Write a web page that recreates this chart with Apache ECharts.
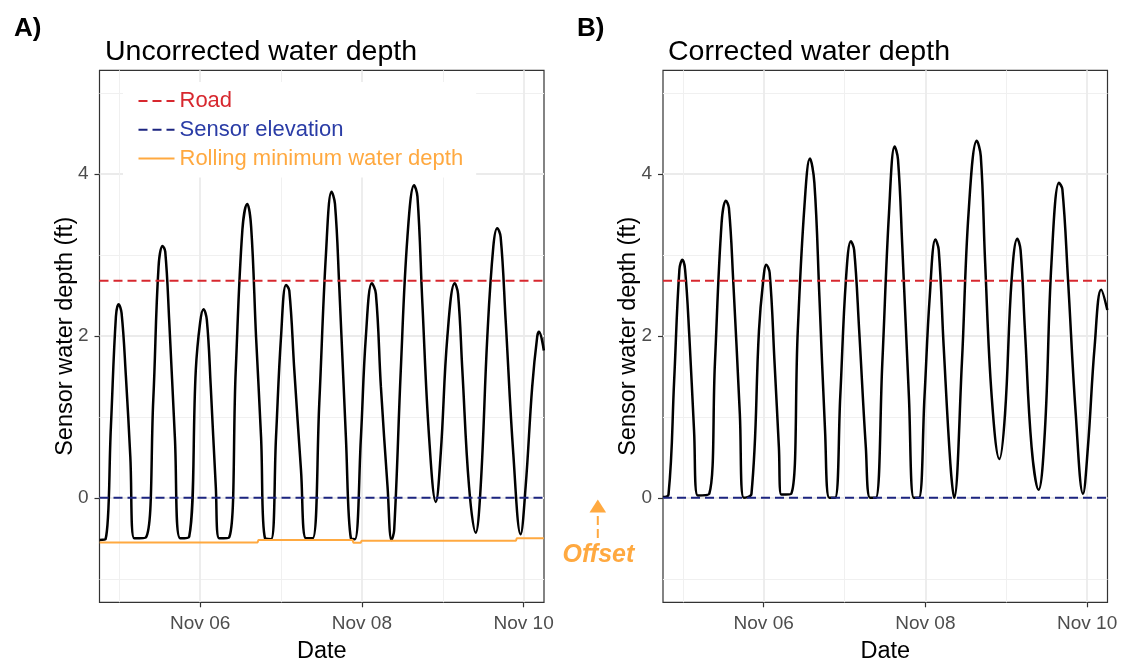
<!DOCTYPE html>
<html>
<head>
<meta charset="utf-8">
<script src="https://cdn.jsdelivr.net/npm/echarts@6/dist/echarts.min.js"></script>
<style>
html,body{margin:0;padding:0;background:#fff}
#main{width:1125px;height:666px}
</style>
</head>
<body>
<div id="main"></div>
<script>
// time = fractional day of November, depth in ft
var rawDay = [4.757,4.83,4.896,4.958,4.991,5.028,5.082,5.136,5.185,5.328,
  5.42,5.485,5.535,5.568,5.617,5.687,5.753,5.864,5.946,6.0,
  6.041,6.082,6.131,6.193,6.235,6.358,6.44,6.522,6.582,6.63,
  6.691,6.753,6.802,6.877,6.938,7.0,7.062,7.102,7.164,7.247,
  7.309,7.391,7.473,7.556,7.625,7.667,7.72,7.802,7.864,7.914,
  7.988,8.049,8.123,8.173,8.235,8.317,8.366,8.399,8.481,8.563,
  8.646,8.687,8.748,8.831,8.914,8.975,9.057,9.148,9.189,9.242,
  9.325,9.407,9.469,9.551,9.625,9.674,9.716,9.778,9.872,9.963,
  10.025,10.106,10.168,10.19,10.25];
var rawDepth = [-0.52,-0.51,0.88,2.24,2.39,2.28,1.49,0.51,-0.50,-0.49,
  1.21,2.85,3.11,3.04,2.19,0.75,-0.50,-0.48,1.58,2.17,
  2.33,2.20,1.37,0.14,-0.50,-0.49,1.58,3.31,3.63,3.35,
  1.99,0.75,-0.50,-0.51,0.75,1.99,2.63,2.56,1.58,0.34,
  -0.50,-0.50,1.17,3.02,3.78,3.63,2.61,0.75,-0.50,-0.51,
  0.75,1.99,2.65,2.52,1.37,0.14,-0.52,-0.40,1.58,3.22,
  3.86,3.72,2.40,0.75,-0.05,0.55,1.99,2.65,2.52,1.58,
  0.14,-0.43,0.14,1.99,3.10,3.33,3.22,2.19,0.55,-0.45,
  0.14,1.37,1.99,2.05,1.82];

var corrDay = [4.754,4.823,4.893,4.958,4.995,5.028,5.081,5.139,5.184,5.327,
  5.397,5.48,5.533,5.57,5.623,5.705,5.754,5.849,5.942,5.991,
  6.033,6.074,6.135,6.188,6.218,6.341,6.422,6.504,6.572,6.627,
  6.689,6.759,6.812,6.882,6.947,7.017,7.079,7.119,7.181,7.263,
  7.316,7.386,7.467,7.55,7.62,7.661,7.714,7.796,7.857,7.919,
  7.989,8.054,8.124,8.165,8.226,8.309,8.355,8.451,8.534,8.636,
  8.685,8.739,8.82,8.915,8.985,9.066,9.137,9.177,9.231,9.313,
  9.399,9.478,9.559,9.653,9.694,9.764,9.859,9.949,10.01,10.093,
  10.174,10.25];
var corrDepth = [0.01,0.04,1.45,2.82,2.94,2.82,1.99,0.83,0.03,0.05,
  1.66,3.40,3.67,3.58,2.69,1.04,0.0,0.05,2.07,2.65,
  2.88,2.78,1.66,0.63,0.04,0.05,2.07,3.60,4.19,3.89,
  2.49,0.83,0.0,0.0,1.25,2.69,3.17,3.06,2.07,0.63,
  0.0,0.0,1.66,3.52,4.34,4.18,3.11,1.25,0.0,0.0,
  1.25,2.49,3.19,3.06,1.87,0.42,0.0,1.66,3.52,4.41,
  4.22,2.90,1.25,0.48,1.04,2.69,3.20,3.06,2.07,0.63,
  0.10,0.83,2.90,3.89,3.81,2.69,1.04,0.05,0.63,1.87,
  2.57,2.32];

var rollDay = [4.757,6.71,6.72,7.885,7.895,7.985,7.995,9.905,9.915,10.25];
var rollDepth = [-0.55,-0.55,-0.52,-0.52,-0.555,-0.555,-0.53,-0.53,-0.50,-0.50];

var roadElev = 2.68;
var sensorElev = 0;

var dateMajor = [6, 8, 10];
var dateMinor = [5, 7, 9];
var depthMajor = [0, 2, 4];
var depthMinor = [-1, 1, 3, 5];
var xMin = 4.755, xMax = 10.252;
var yMin = -1.29, yMax = 5.28;

var RED = '#d7282f', NAVY = '#1c2580', ORANGE = '#ffa940';
var FONT = 'Liberation Sans, Arial, Helvetica, sans-serif';

function zip(a, b) {
  var out = [];
  for (var i = 0; i < a.length; i++) out.push([a[i], b[i]]);
  return out;
}
function dateLabel(v) {
  return 'Nov ' + (v < 10 ? '0' : '') + v;
}

var grids = [
  {left: 99.5, top: 70.3, width: 444.5, height: 532},
  {left: 663, top: 70.3, width: 444.5, height: 532}
];

var xAxes = [], yAxes = [];
for (var g = 0; g < 2; g++) {
  // main axes: ticks, labels, major grid lines
  xAxes.push({
    gridIndex: g, type: 'value', min: xMin, max: xMax,
    axisLine: {show: false, onZero: false},
    axisTick: {show: true, customValues: dateMajor, length: 5, lineStyle: {color: '#333', width: 1.2}},
    axisLabel: {customValues: dateMajor, formatter: dateLabel, color: '#4d4d4d', fontSize: 19, fontFamily: FONT, margin: 12},
    splitLine: {show: true, lineStyle: {color: '#ebebeb', width: 1.8}},
    name: 'Date', nameLocation: 'middle', nameGap: 37, nameMoveOverlap: false,
    nameTextStyle: {color: '#000', fontSize: 23.5, fontFamily: FONT}
  });
  // minor grid lines only
  xAxes.push({
    gridIndex: g, type: 'value', min: xMin, max: xMax, position: 'bottom',
    axisLine: {show: false, onZero: false},
    axisTick: {show: false, customValues: dateMinor},
    axisLabel: {show: false},
    splitLine: {show: true, lineStyle: {color: '#f0f0f0', width: 1}}
  });
  yAxes.push({
    gridIndex: g, type: 'value', min: yMin, max: yMax,
    axisLine: {show: false, onZero: false},
    axisTick: {show: true, customValues: depthMajor, length: 5, lineStyle: {color: '#333', width: 1.2}},
    axisLabel: {customValues: depthMajor, color: '#4d4d4d', fontSize: 19, fontFamily: FONT, margin: 11},
    splitLine: {show: true, lineStyle: {color: '#ebebeb', width: 1.8}},
    name: 'Sensor water depth (ft)', nameLocation: 'middle', nameGap: 22, nameMoveOverlap: false,
    nameTextStyle: {color: '#000', fontSize: 23.5, fontFamily: FONT}
  });
  yAxes.push({
    gridIndex: g, type: 'value', min: yMin, max: yMax, position: 'left',
    axisLine: {show: false, onZero: false},
    axisTick: {show: false, customValues: depthMinor},
    axisLabel: {show: false},
    splitLine: {show: true, lineStyle: {color: '#f0f0f0', width: 1}}
  });
}

function refLine(name, value, color, g) {
  return {
    name: name, type: 'line', xAxisIndex: g * 2, yAxisIndex: g * 2,
    data: [[xMin, value], [xMax, value]],
    symbol: 'none', silent: true, z: 3,
    lineStyle: {color: color, width: 2, type: [9, 5]},
    itemStyle: {color: color}
  };
}

var series = [
  refLine('Road', roadElev, RED, 0),
  refLine('Sensor elevation', sensorElev, NAVY, 0),
  {
    name: 'Rolling minimum water depth', type: 'line', xAxisIndex: 0, yAxisIndex: 0,
    data: zip(rollDay, rollDepth), symbol: 'none', z: 3,
    lineStyle: {color: ORANGE, width: 2}, itemStyle: {color: ORANGE}
  },
  {
    name: 'Uncorrected', type: 'line', xAxisIndex: 0, yAxisIndex: 0,
    data: zip(rawDay, rawDepth), symbol: 'none', smooth: 0.4, z: 2,
    lineStyle: {color: '#000', width: 2.5}, itemStyle: {color: '#000'}
  },
  refLine('Road', roadElev, RED, 1),
  refLine('Sensor elevation', sensorElev, NAVY, 1),
  {
    name: 'Corrected', type: 'line', xAxisIndex: 2, yAxisIndex: 2,
    data: zip(corrDay, corrDepth), symbol: 'none', smooth: 0.4, z: 2,
    lineStyle: {color: '#000', width: 2.5}, itemStyle: {color: '#000'}
  }
];

var chart = echarts.init(document.getElementById('main'), null, {renderer: 'canvas'});
chart.setOption({
  animation: false,
  backgroundColor: '#fff',
  textStyle: {fontFamily: FONT},
  title: [
    {text: 'A)', left: 9, top: 11, textStyle: {fontSize: 26, fontWeight: 'bold', color: '#000', fontFamily: FONT, lineHeight: 26}},
    {text: 'Uncorrected water depth', left: 100, top: 33, textStyle: {fontSize: 28.5, fontWeight: 'normal', color: '#000', fontFamily: FONT, lineHeight: 28.5}},
    {text: 'B)', left: 572, top: 11, textStyle: {fontSize: 26, fontWeight: 'bold', color: '#000', fontFamily: FONT, lineHeight: 26}},
    {text: 'Corrected water depth', left: 663, top: 33, textStyle: {fontSize: 28.5, fontWeight: 'normal', color: '#000', fontFamily: FONT, lineHeight: 28.5}}
  ],
  legend: {
    orient: 'vertical', left: 123, top: 82,
    padding: [8, 13, 8, 14.5],
    backgroundColor: '#fff',
    itemWidth: 36, itemHeight: 14, itemGap: 6.8,
    selectedMode: false,
    itemStyle: {opacity: 0, borderWidth: 0},
    lineStyle: {width: 2},
    textStyle: {fontSize: 22, fontFamily: FONT, lineHeight: 22},
    data: [
      {name: 'Road', textStyle: {color: RED}},
      {name: 'Sensor elevation', textStyle: {color: '#2a3ca6'}},
      {name: 'Rolling minimum water depth', textStyle: {color: ORANGE}}
    ]
  },
  grid: grids.map(function (r) {
    return {left: r.left, top: r.top, width: r.width, height: r.height,
      show: true, borderColor: '#333', borderWidth: 1.2, backgroundColor: '#fff',
      containLabel: false, outerBoundsMode: 'none'};
  }),
  xAxis: xAxes,
  yAxis: yAxes,
  series: series,
  graphic: [
    {type: 'polygon', shape: {points: [[597.8, 499.5], [589.5, 512.5], [606.1, 512.5]]}, style: {fill: ORANGE}},
    {type: 'line', shape: {x1: 597.8, y1: 516, x2: 597.8, y2: 540}, style: {stroke: ORANGE, lineWidth: 2, lineDash: [9, 4]}},
    {type: 'text', x: 598.4, y: 555.5, style: {text: 'Offset', fill: ORANGE, font: 'italic bold 25px ' + FONT, textAlign: 'center', textVerticalAlign: 'middle'}}
  ]
});
</script>
</body>
</html>
